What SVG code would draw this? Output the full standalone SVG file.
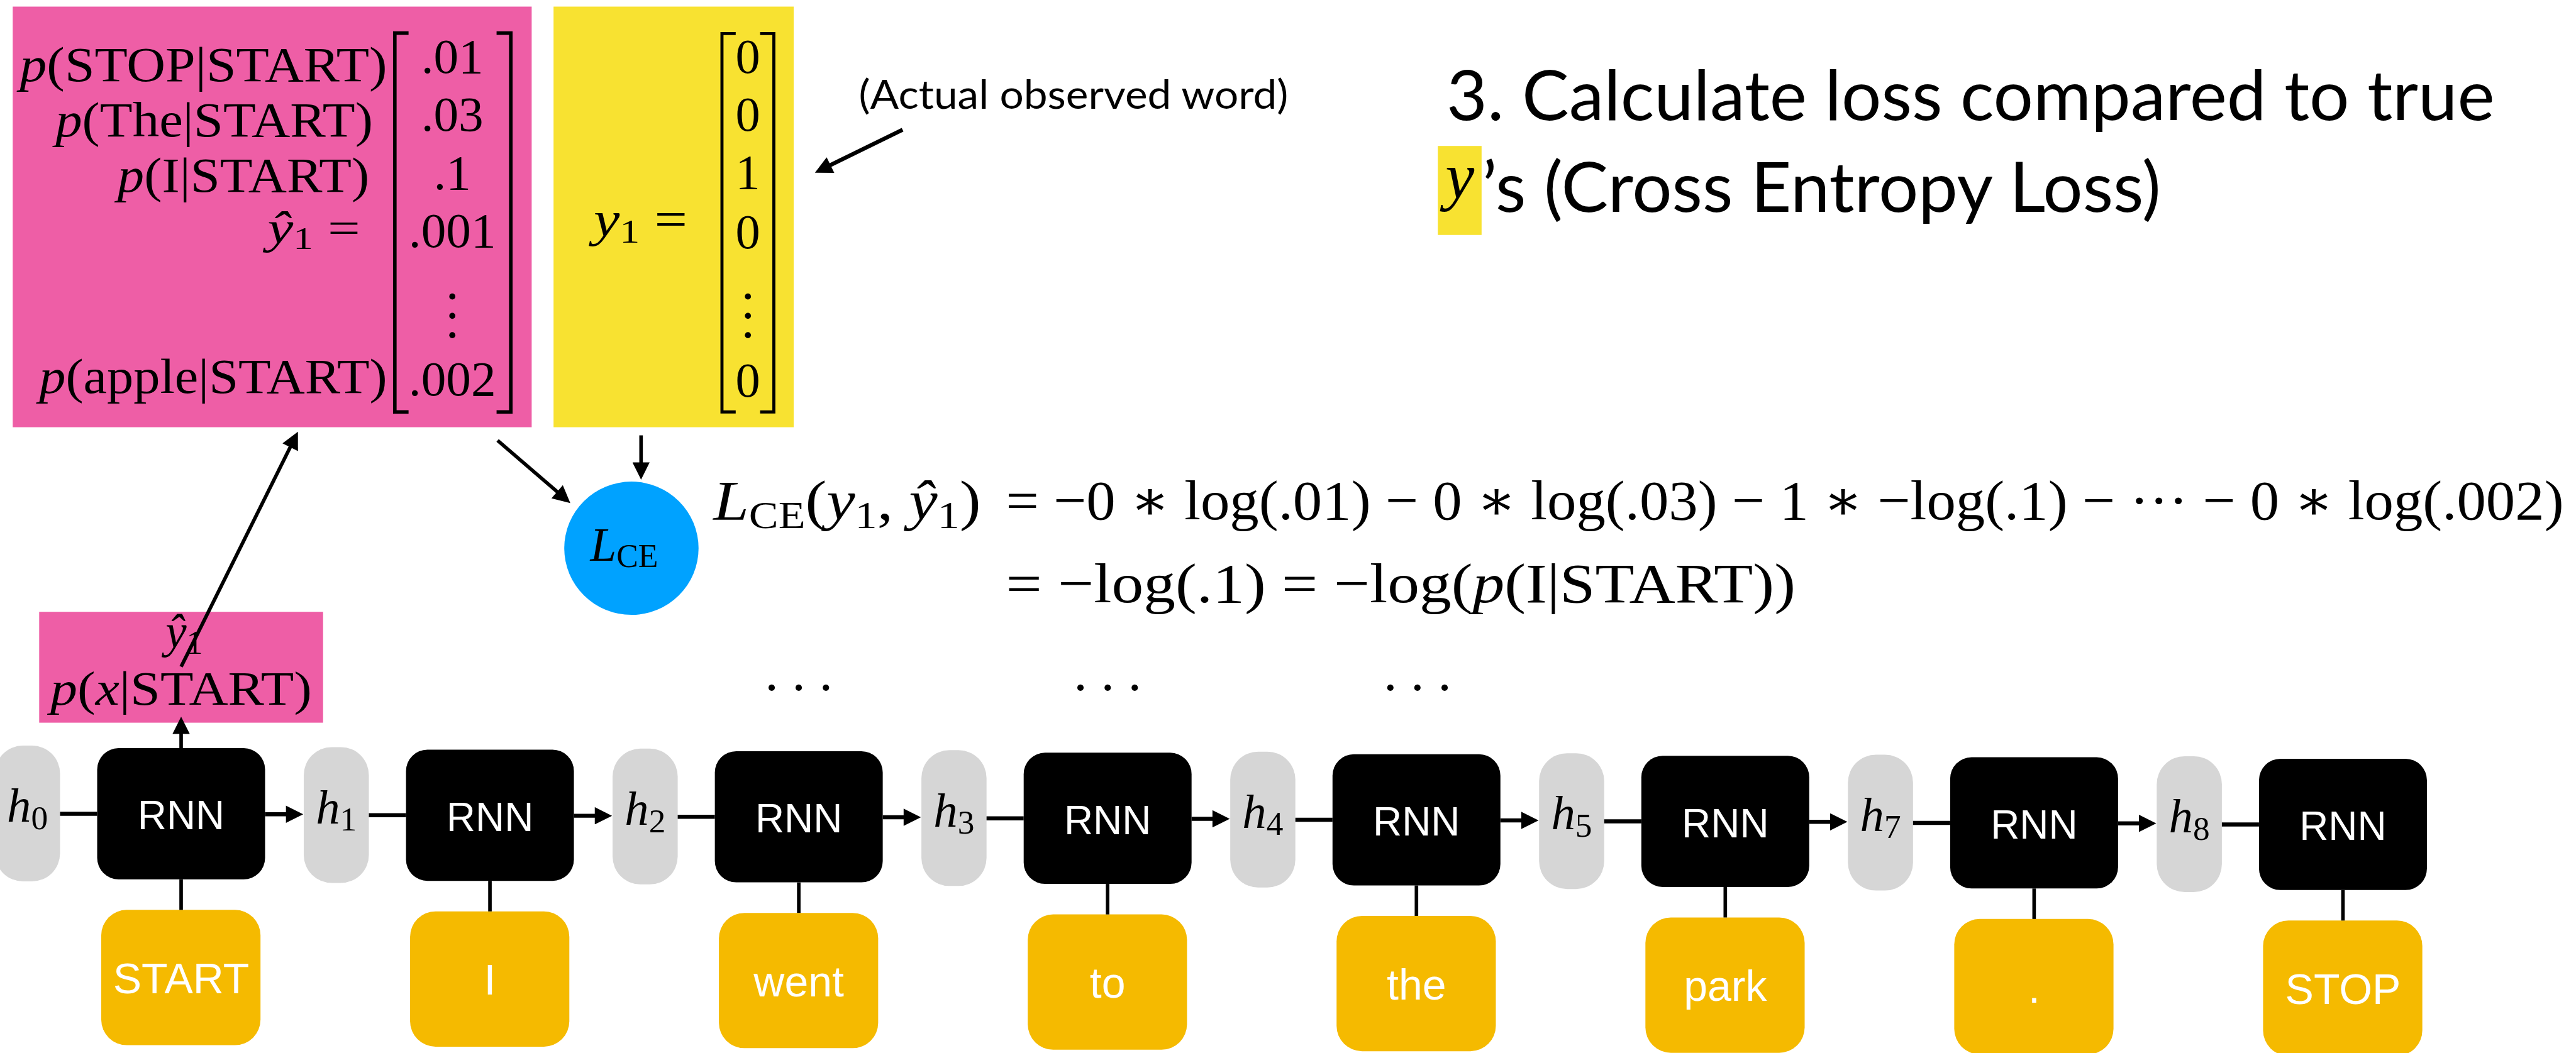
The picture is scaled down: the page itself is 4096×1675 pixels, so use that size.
<svg xmlns="http://www.w3.org/2000/svg" width="4096" height="1675" viewBox="0 0 4096 1675">
<defs>
<style>
.m{font-family:"Liberation Serif","Times New Roman","DejaVu Serif",serif;fill:#000}
.i{font-style:italic}
.s{font-family:"Liberation Sans",Arial,sans-serif;fill:#fff;text-anchor:middle}
.t{font-family:Lato,"Open Sans",sans-serif;fill:#000}
.rnn{fill:#000}
.hb{fill:#D6D6D6}
.wb{fill:#F5BA00}
.ln{stroke:#000;fill:none}
.br{stroke:#000;fill:none;stroke-width:7;stroke-linejoin:miter}
</style>
<marker id="ah" viewBox="0 0 10 10" refX="5" refY="5" markerWidth="36" markerHeight="34" markerUnits="userSpaceOnUse" orient="auto"><path d="M0,0L10,5L0,10z" fill="#000"/></marker>
</defs>
<rect width="4096" height="1675" fill="#fff"/>
<g transform="scale(0.809)">

<!-- predicted distribution box -->
<g id="yhat-matrix">
<rect x="25" y="13" width="1020" height="827" fill="#EE5EA6"/>
<g class="m" font-size="96">
<text x="761" y="160" text-anchor="end" textLength="722" lengthAdjust="spacingAndGlyphs"><tspan class="i">p</tspan>(STOP|START)</text>
<text x="733" y="268" text-anchor="end" textLength="624" lengthAdjust="spacingAndGlyphs"><tspan class="i">p</tspan>(The|START)</text>
<text x="726" y="377" text-anchor="end" textLength="495" lengthAdjust="spacingAndGlyphs"><tspan class="i">p</tspan>(I|START)</text>
<text x="708" y="479" font-size="90" text-anchor="end" textLength="182" lengthAdjust="spacingAndGlyphs"><tspan class="i">ŷ</tspan><tspan font-size="62" dy="11">1</tspan><tspan dy="-11"> =</tspan></text>
<text x="761" y="772" text-anchor="end" textLength="684" lengthAdjust="spacingAndGlyphs"><tspan class="i">p</tspan>(apple|START)</text>
</g>
<g class="m" font-size="98" text-anchor="middle">
<text x="889" y="144">.01</text>
<text x="889" y="257">.03</text>
<text x="889" y="372">.1</text>
<text x="889" y="486">.001</text>
<text x="889" y="778">.002</text>
</g>
<circle cx="889" cy="583" r="6"/><circle cx="889" cy="621" r="6"/><circle cx="889" cy="659" r="6"/>
<path class="br" d="M803,65H776V810H803"/>
<path class="br" d="M976,65H1004V810H976"/>
</g>

<!-- true label box -->
<g id="y-matrix">
<rect x="1088" y="13" width="472" height="827" fill="#F8E231"/>
<g class="m" font-size="97">
<text x="1167" y="463" textLength="184" lengthAdjust="spacingAndGlyphs"><tspan class="i">y</tspan><tspan font-size="66" dy="14">1</tspan><tspan dy="-14"> =</tspan></text>
<g text-anchor="middle">
<text x="1470" y="144">0</text>
<text x="1470" y="257">0</text>
<text x="1470" y="371">1</text>
<text x="1470" y="488">0</text>
<text x="1470" y="780">0</text>
</g>
</g>
<circle cx="1470" cy="583" r="6"/><circle cx="1470" cy="621" r="6"/><circle cx="1470" cy="659" r="6"/>
<path class="br" style="stroke-width:6" d="M1446,66H1419V810H1446"/>
<path class="br" style="stroke-width:6" d="M1494,66H1521V810H1494"/>
</g>

<g id="note">
<text class="t" x="1688" y="214" font-size="80" textLength="844" lengthAdjust="spacingAndGlyphs">(Actual observed word)</text>
</g>

<g id="title">
<text class="t" x="2843" y="236" font-size="136" textLength="2060" lengthAdjust="spacingAndGlyphs">3. Calculate loss compared to true</text>
<rect x="2826" y="287" width="86" height="175" fill="#F8E231"/>
<text class="m i" x="2841" y="390" font-size="128">y</text>
<text class="t" x="2913" y="417" font-size="136" textLength="1334" lengthAdjust="spacingAndGlyphs">’s (Cross Entropy Loss)</text>
</g>

<g id="loss">
<ellipse cx="1241" cy="1078" rx="132" ry="131" fill="#00A2FF"/>
<text class="m" x="1160" y="1102" font-size="93"><tspan class="i">L</tspan><tspan font-size="64" dy="13">CE</tspan></text>
</g>

<g id="equation" class="m" font-size="110">
<text x="1402" y="1021" textLength="526" lengthAdjust="spacingAndGlyphs"><tspan class="i">L</tspan><tspan font-size="76" dy="17">CE</tspan><tspan dy="-17">(</tspan><tspan class="i">y</tspan><tspan font-size="76" dy="17">1</tspan><tspan dy="-17">, </tspan><tspan class="i">ŷ</tspan><tspan font-size="76" dy="17">1</tspan><tspan dy="-17">)</tspan></text>
<text x="1977" y="1021" textLength="3062" lengthAdjust="spacingAndGlyphs">= −0 ∗ log(.01) − 0 ∗ log(.03) − 1 ∗ −log(.1) − ··· − 0 ∗ log(.002)</text>
<text x="1977" y="1184" textLength="1552" lengthAdjust="spacingAndGlyphs">= −log(.1) = −log(<tspan class="i">p</tspan>(I|START))</text>
</g>

<g id="yhat-out">
<rect x="77" y="1203" width="558" height="218" fill="#EE5EA6"/>
<text class="m" x="362" y="1273" font-size="93" text-anchor="middle"><tspan class="i">ŷ</tspan><tspan font-size="64" dy="13">1</tspan></text>
<text class="m" x="99" y="1386" font-size="95" textLength="514" lengthAdjust="spacingAndGlyphs"><tspan class="i">p</tspan>(<tspan class="i">x</tspan>|START)</text>
</g>

<g id="dots" class="m" font-size="106" text-anchor="middle" letter-spacing="18">
<text x="1579" y="1388">···</text>
<text x="2186" y="1388">···</text>
<text x="2795" y="1388">···</text>
</g>

<!-- hidden states -->
<g id="hidden" class="m">
<g id="h0"><rect class="hb" x="-10" y="1466" width="128" height="267" rx="55"/><text x="54" y="1616" font-size="95" text-anchor="middle"><tspan class="i">h</tspan><tspan font-size="66" dy="14">0</tspan></text></g>
<g id="h1"><rect class="hb" x="597" y="1469" width="128" height="267" rx="55"/><text x="661" y="1619" font-size="95" text-anchor="middle"><tspan class="i">h</tspan><tspan font-size="66" dy="14">1</tspan></text></g>
<g id="h2"><rect class="hb" x="1204" y="1472" width="128" height="267" rx="55"/><text x="1268" y="1622" font-size="95" text-anchor="middle"><tspan class="i">h</tspan><tspan font-size="66" dy="14">2</tspan></text></g>
<g id="h3"><rect class="hb" x="1811" y="1475" width="128" height="267" rx="55"/><text x="1875" y="1625" font-size="95" text-anchor="middle"><tspan class="i">h</tspan><tspan font-size="66" dy="14">3</tspan></text></g>
<g id="h4"><rect class="hb" x="2418" y="1478" width="128" height="267" rx="55"/><text x="2482" y="1628" font-size="95" text-anchor="middle"><tspan class="i">h</tspan><tspan font-size="66" dy="14">4</tspan></text></g>
<g id="h5"><rect class="hb" x="3025" y="1481" width="128" height="267" rx="55"/><text x="3089" y="1631" font-size="95" text-anchor="middle"><tspan class="i">h</tspan><tspan font-size="66" dy="14">5</tspan></text></g>
<g id="h7"><rect class="hb" x="3632" y="1484" width="128" height="267" rx="55"/><text x="3696" y="1634" font-size="95" text-anchor="middle"><tspan class="i">h</tspan><tspan font-size="66" dy="14">7</tspan></text></g>
<g id="h8"><rect class="hb" x="4239" y="1487" width="128" height="267" rx="55"/><text x="4303" y="1637" font-size="95" text-anchor="middle"><tspan class="i">h</tspan><tspan font-size="66" dy="14">8</tspan></text></g>
</g>

<!-- RNN cells -->
<g id="cells" font-size="79">
<g id="rnn1"><rect class="rnn" x="191" y="1471" width="330" height="258" rx="42"/><text class="s" x="356" y="1631">RNN</text></g>
<g id="rnn2"><rect class="rnn" x="798" y="1474" width="330" height="258" rx="42"/><text class="s" x="963" y="1634">RNN</text></g>
<g id="rnn3"><rect class="rnn" x="1405" y="1477" width="330" height="258" rx="42"/><text class="s" x="1570" y="1637">RNN</text></g>
<g id="rnn4"><rect class="rnn" x="2012" y="1480" width="330" height="258" rx="42"/><text class="s" x="2177" y="1640">RNN</text></g>
<g id="rnn5"><rect class="rnn" x="2619" y="1483" width="330" height="258" rx="42"/><text class="s" x="2784" y="1643">RNN</text></g>
<g id="rnn6"><rect class="rnn" x="3226" y="1486" width="330" height="258" rx="42"/><text class="s" x="3391" y="1646">RNN</text></g>
<g id="rnn7"><rect class="rnn" x="3833" y="1489" width="330" height="258" rx="42"/><text class="s" x="3998" y="1649">RNN</text></g>
<g id="rnn8"><rect class="rnn" x="4440" y="1492" width="330" height="258" rx="42"/><text class="s" x="4605" y="1652">RNN</text></g>
</g>

<!-- input words -->
<g id="words" font-size="84">
<g id="w-start"><rect class="wb" x="199" y="1789" width="313" height="266" rx="50"/><text class="s" x="356" y="1953">START</text></g>
<g id="w-i"><rect class="wb" x="806" y="1792" width="313" height="266" rx="50"/><text class="s" x="963" y="1956">I</text></g>
<g id="w-went"><rect class="wb" x="1413" y="1795" width="313" height="266" rx="50"/><text class="s" x="1570" y="1959">went</text></g>
<g id="w-to"><rect class="wb" x="2020" y="1798" width="313" height="266" rx="50"/><text class="s" x="2177" y="1962">to</text></g>
<g id="w-the"><rect class="wb" x="2627" y="1801" width="313" height="266" rx="50"/><text class="s" x="2784" y="1965">the</text></g>
<g id="w-park"><rect class="wb" x="3234" y="1804" width="313" height="266" rx="50"/><text class="s" x="3391" y="1968">park</text></g>
<g id="w-dot"><rect class="wb" x="3841" y="1807" width="313" height="266" rx="50"/><text class="s" x="3998" y="1971">.</text></g>
<g id="w-stop"><rect class="wb" x="4448" y="1810" width="313" height="266" rx="50"/><text class="s" x="4605" y="1974">STOP</text></g>
</g>

<!-- connectors -->
<g id="connectors" class="ln">
<g stroke-width="8">
<line x1="118" y1="1600" x2="191" y2="1600"/>
<line x1="725" y1="1603" x2="798" y2="1603"/>
<line x1="1332" y1="1606" x2="1405" y2="1606"/>
<line x1="1939" y1="1609" x2="2012" y2="1609"/>
<line x1="2546" y1="1612" x2="2619" y2="1612"/>
<line x1="3153" y1="1615" x2="3226" y2="1615"/>
<line x1="3760" y1="1618" x2="3833" y2="1618"/>
<line x1="4367" y1="1621" x2="4440" y2="1621"/>
<line x1="521" y1="1601" x2="579" y2="1601" marker-end="url(#ah)"/>
<line x1="1128" y1="1604" x2="1186" y2="1604" marker-end="url(#ah)"/>
<line x1="1735" y1="1607" x2="1793" y2="1607" marker-end="url(#ah)"/>
<line x1="2342" y1="1610" x2="2400" y2="1610" marker-end="url(#ah)"/>
<line x1="2949" y1="1613" x2="3007" y2="1613" marker-end="url(#ah)"/>
<line x1="3556" y1="1616" x2="3614" y2="1616" marker-end="url(#ah)"/>
<line x1="4163" y1="1619" x2="4221" y2="1619" marker-end="url(#ah)"/>
</g>
<g stroke-width="7">
<line x1="356" y1="1729" x2="356" y2="1789"/>
<line x1="963" y1="1732" x2="963" y2="1792"/>
<line x1="1570" y1="1735" x2="1570" y2="1795"/>
<line x1="2177" y1="1738" x2="2177" y2="1798"/>
<line x1="2784" y1="1741" x2="2784" y2="1801"/>
<line x1="3391" y1="1744" x2="3391" y2="1804"/>
<line x1="3998" y1="1747" x2="3998" y2="1807"/>
<line x1="4605" y1="1750" x2="4605" y2="1810"/>
<line x1="356" y1="1471" x2="356" y2="1426" marker-end="url(#ah)"/>
<line x1="356" y1="1311" x2="578" y2="864" marker-end="url(#ah)"/>
<line x1="978" y1="866" x2="1108" y2="978" marker-end="url(#ah)"/>
<line x1="1260" y1="856" x2="1260" y2="926" marker-end="url(#ah)"/>
<line x1="1774" y1="255" x2="1617" y2="332" stroke-width="8" marker-end="url(#ah)"/>
</g>
</g>

</g>
</svg>
